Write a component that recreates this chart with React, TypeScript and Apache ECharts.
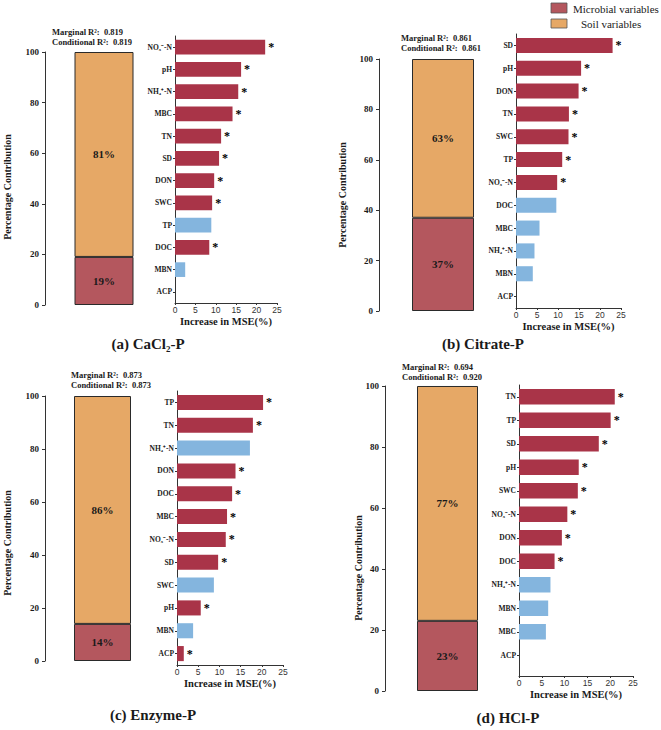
import React, { useEffect, useRef } from "react";
import * as echarts from "echarts";

// ---------- data ----------
const catsA = ["NO₃⁻-N", "pH", "NH₄⁺-N", "MBC", "TN", "SD", "DON", "SWC", "TP", "DOC", "MBN", "ACP"];
const mseA = [22.1, 16.2, 15.5, 14.1, 11.3, 10.8, 9.6, 9.1, 8.9, 8.4, 2.5, 0];
const sigA = [1, 1, 1, 1, 1, 1, 1, 1, 0, 1, 0, 0];

const catsB = ["SD", "pH", "DON", "TN", "SWC", "TP", "NO₃⁻-N", "DOC", "MBC", "NH₄⁺-N", "MBN", "ACP"];
const mseB = [23.0, 15.5, 14.9, 12.6, 12.5, 11.0, 9.8, 9.6, 5.6, 4.4, 4.0, 0];
const sigB = [1, 1, 1, 1, 1, 1, 1, 0, 0, 0, 0, 0];

const catsC = ["TP", "TN", "NH₄⁺-N", "DON", "DOC", "MBC", "NO₃⁻-N", "SD", "SWC", "pH", "MBN", "ACP"];
const mseC = [20.3, 17.9, 17.2, 13.8, 13.0, 11.8, 11.5, 9.7, 8.7, 5.6, 3.8, 1.6];
const sigC = [1, 1, 0, 1, 1, 1, 1, 1, 0, 1, 0, 1];

const catsD = ["TN", "TP", "SD", "pH", "SWC", "NO₃⁻-N", "DON", "DOC", "NH₄⁺-N", "MBN", "MBC", "ACP"];
const mseD = [21.0, 20.1, 17.5, 13.1, 12.9, 10.6, 9.4, 7.8, 6.9, 6.4, 5.9, 0];
const sigD = [1, 1, 1, 1, 1, 1, 1, 1, 0, 0, 0, 0];

const microbialPct = [19, 37, 14, 23];
const soilPct = [81, 63, 86, 77];
const marginalR2 = ["0.819", "0.861", "0.873", "0.694"];
const conditionalR2 = ["0.819", "0.861", "0.873", "0.920"];
const panelTitles = ["(a) CaCl₂-P", "(b) Citrate-P", "(c) Enzyme-P", "(d) HCl-P"];
const legendLabels = ["Microbial variables", "Soil variables"];
const pctAxis = { min: 0, max: 100, interval: 20 };
const mseAxis = { min: 0, max: 25, interval: 5 };

// ---------- styles ----------
const SERIF = "Liberation Serif";
const SANS = "Liberation Sans";
const RED = "#A93448";
const BLUE = "#84B5DE";
const ORANGE = "#E6A866";
const STACK_RED = "#B4575E";
const INK = "#1a1a1a";
const AXIS = "#333";

const panels = [
  {
    cats: catsA, mse: mseA, sig: sigA, xOffset: 0,
    stack: { left: 45, top: 52, width: 118, height: 253, barWidth: 59 },
    bars: { left: 175, top: 36, width: 102, height: 267 },
    r2: { x: 52, y: 32 }, title: { x: 148, y: 344 }, pc: { x: 7, y: 187 },
  },
  {
    cats: catsB, mse: mseB, sig: sigB, xOffset: 0,
    stack: { left: 379, top: 59, width: 128, height: 252, barWidth: 62 },
    bars: { left: 516, top: 34, width: 105, height: 274 },
    r2: { x: 401, y: 38 }, title: { x: 483, y: 344 }, pc: { x: 342, y: 195 },
  },
  {
    cats: catsC, mse: mseC, sig: sigC, xOffset: 0,
    stack: { left: 45, top: 396, width: 115, height: 265, barWidth: 57 },
    bars: { left: 177, top: 391, width: 106, height: 274 },
    r2: { x: 71, y: 375 }, title: { x: 153, y: 715 }, pc: { x: 7, y: 543 },
  },
  {
    cats: catsD, mse: mseD, sig: sigD, xOffset: 9,
    stack: { left: 385, top: 386, width: 125, height: 305, barWidth: 61 },
    bars: { left: 519, top: 385, width: 114, height: 282 },
    r2: { x: 402, y: 367 }, title: { x: 508, y: 718 }, pc: { x: 358, y: 568 },
  },
];

function txt(x: number, y: number, text: string, o: any = {}) {
  return {
    type: "text",
    x,
    y,
    rotation: o.rotation || 0,
    style: {
      text,
      fontSize: o.fontSize || 9,
      fontWeight: o.fontWeight || "bold",
      fontFamily: o.fontFamily || SERIF,
      fill: o.fill || INK,
      textAlign: o.align || "left",
      align: o.align || "left",
      textVerticalAlign: "middle",
      verticalAlign: "middle",
    },
  };
}

function buildOption() {
  const grid: any[] = [];
  const xAxis: any[] = [];
  const yAxis: any[] = [];
  const series: any[] = [];
  const graphic: any[] = [];

  panels.forEach((p, i) => {
    const gs = grid.length;
    const { barWidth, ...sg } = p.stack;
    grid.push({ ...sg, containLabel: false });
    grid.push({ ...p.bars, containLabel: false });

    // stacked percentage bar
    xAxis.push({ type: "category", gridIndex: gs, data: [""], show: false });
    yAxis.push({
      type: "value",
      gridIndex: gs,
      ...pctAxis,
      axisLine: { show: true, lineStyle: { color: AXIS, width: 1 } },
      axisTick: { show: true, length: 3, lineStyle: { color: AXIS } },
      axisLabel: { margin: 6, fontFamily: SERIF, fontWeight: "bold", fontSize: 9, color: INK },
      splitLine: { show: false },
    });
    const stackLabel = {
      show: true,
      position: "inside",
      formatter: (pr: any) => pr.value + "%",
      fontFamily: SERIF,
      fontWeight: "bold",
      fontSize: 11,
      color: INK,
    };
    series.push({
      type: "bar",
      name: legendLabels[0],
      xAxisIndex: gs,
      yAxisIndex: gs,
      stack: "pct" + i,
      barWidth,
      data: [microbialPct[i]],
      itemStyle: { color: STACK_RED, borderColor: "#2a2a2a", borderWidth: 1 },
      label: stackLabel,
    });
    series.push({
      type: "bar",
      name: legendLabels[1],
      xAxisIndex: gs,
      yAxisIndex: gs,
      stack: "pct" + i,
      barWidth,
      data: [soilPct[i]],
      itemStyle: { color: ORANGE, borderColor: "#2a2a2a", borderWidth: 1 },
      label: stackLabel,
    });

    // importance bars
    const gb = gs + 1;
    xAxis.push({
      type: "value",
      gridIndex: gb,
      ...mseAxis,
      offset: p.xOffset,
      axisLine: { show: true, lineStyle: { color: AXIS, width: 1 } },
      axisTick: { show: true, length: 2, lineStyle: { color: AXIS } },
      axisLabel: { margin: 2, fontFamily: SANS, fontSize: 8.5, color: "#333" },
      splitLine: { show: false },
      name: "Increase in MSE(%)",
      nameLocation: "middle",
      nameGap: 13,
      nameTextStyle: { fontFamily: SERIF, fontWeight: "bold", fontSize: 10.5, color: INK },
    });
    yAxis.push({
      type: "category",
      gridIndex: gb,
      inverse: true,
      data: p.cats,
      axisLine: { show: true, lineStyle: { color: AXIS, width: 1 } },
      axisTick: { show: true, length: 2, alignWithLabel: true, lineStyle: { color: AXIS } },
      axisLabel: { margin: 3, fontFamily: SERIF, fontWeight: "bold", fontSize: 7.5, color: INK, interval: 0 },
      splitLine: { show: false },
    });
    if (p.xOffset) {
      // continue the vertical axis line down to the offset horizontal axis
      const bottom = p.bars.top + p.bars.height;
      graphic.push({
        type: "line",
        shape: { x1: p.bars.left + 0.5, y1: bottom, x2: p.bars.left + 0.5, y2: bottom + p.xOffset + 0.5 },
        style: { stroke: AXIS, lineWidth: 1 },
      });
    }
    series.push({
      type: "bar",
      xAxisIndex: gb,
      yAxisIndex: gb,
      barWidth: "66%",
      data: p.mse.map((v, k) => ({
        value: v,
        itemStyle: { color: p.sig[k] ? RED : BLUE },
      })),
      label: {
        show: true,
        position: "right",
        distance: 3,
        formatter: (pr: any) => (p.sig[pr.dataIndex] ? "*" : ""),
        fontFamily: SERIF,
        fontWeight: "bold",
        fontSize: 12,
        color: "#000",
      },
    });

    // texts
    graphic.push(txt(p.r2.x, p.r2.y, "Marginal R²:\u00a0 " + marginalR2[i], { fontSize: 8.5 }));
    graphic.push(txt(p.r2.x, p.r2.y + 10, "Conditional R²:\u00a0 " + conditionalR2[i], { fontSize: 8.5 }));
    graphic.push(txt(p.title.x, p.title.y, panelTitles[i], { fontSize: 15, align: "center" }));
    graphic.push(
      txt(p.pc.x, p.pc.y, "Percentage Contribution", { fontSize: 10, align: "center", rotation: Math.PI / 2 })
    );
  });

  // legend
  graphic.push({
    type: "rect",
    shape: { x: 551, y: 3, width: 16, height: 10 },
    style: { fill: STACK_RED, stroke: "#555", lineWidth: 0.8 },
  });
  graphic.push({
    type: "rect",
    shape: { x: 551, y: 19, width: 16, height: 9 },
    style: { fill: ORANGE, stroke: "#555", lineWidth: 0.8 },
  });
  graphic.push(txt(573, 9, legendLabels[0], { fontSize: 11, fontWeight: "normal" }));
  graphic.push(txt(581, 24, legendLabels[1], { fontSize: 11, fontWeight: "normal" }));

  return {
    animation: false,
    backgroundColor: "#ffffff",
    grid,
    xAxis,
    yAxis,
    series,
    graphic,
  };
}

export default function App() {
  const ref = useRef<HTMLDivElement>(null);
  useEffect(() => {
    if (!ref.current) return;
    const chart = echarts.init(ref.current, undefined, { renderer: "svg" });
    chart.setOption(buildOption() as any);
    return () => chart.dispose();
  }, []);
  return (
    <div
      ref={ref}
      style={{ position: "fixed", left: 0, top: 0, width: 661, height: 730, background: "#fff" }}
    />
  );
}
